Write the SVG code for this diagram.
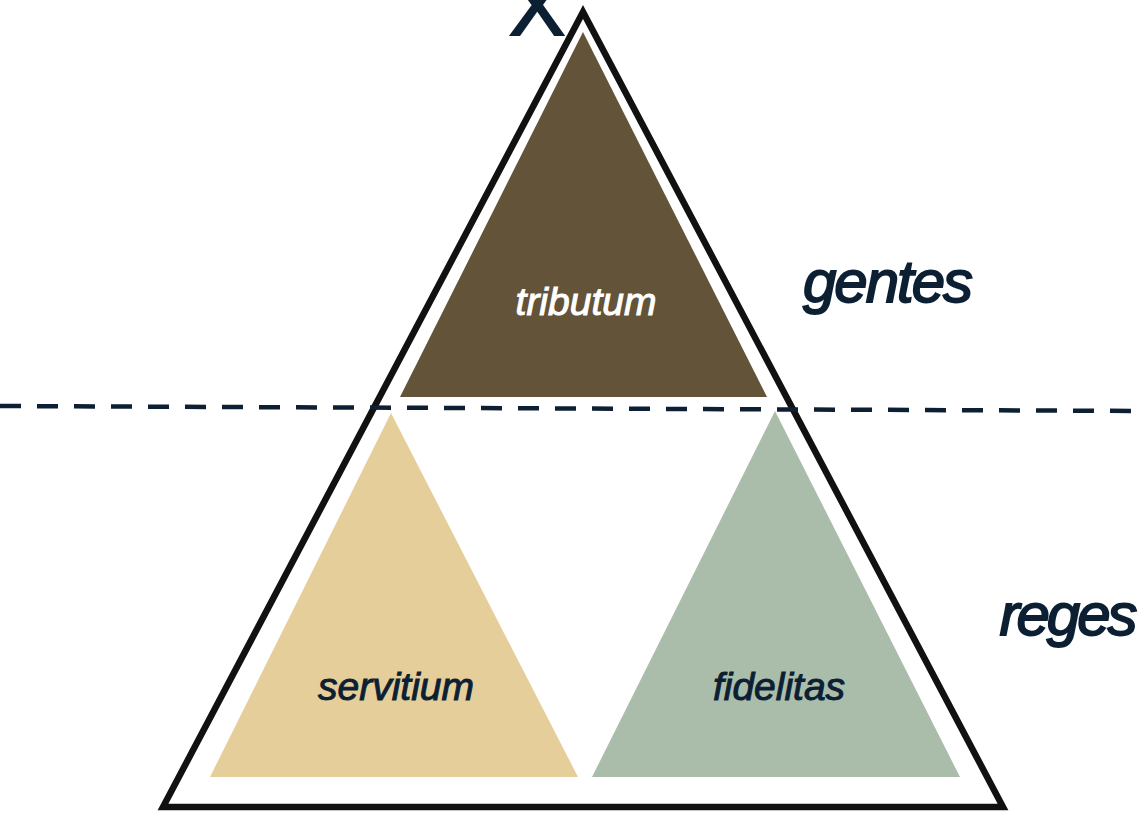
<svg xmlns="http://www.w3.org/2000/svg" width="1146" height="819" viewBox="0 0 1146 819">
<style>
.lbl{font-family:"Liberation Sans",Arial,sans-serif;font-style:italic;text-anchor:middle}
.dark{fill:#0c1f33;stroke:#0c1f33}
.big{font-size:60px;stroke-width:1.8}
.small{font-size:39px;stroke-width:1}
</style>
<rect width="1146" height="819" fill="#ffffff"/>
<g id="x-label"><text x="537" y="35" font-family="Liberation Sans,Arial,sans-serif" font-size="84" text-anchor="middle" fill="#0c1f33" stroke="#0c1f33" stroke-width="2">X</text></g>
<g id="outer"><polygon points="583,12 163,807 1003,807" fill="none" stroke="#111111" stroke-width="6.5" stroke-linejoin="miter"/></g>
<g id="tributum"><polygon points="583,32 400,397 767,397" fill="#625339"/><text class="lbl small" x="586" y="315" fill="#ffffff" stroke="#ffffff">tributum</text></g>
<g id="servitium"><polygon points="391,413 210,777 578,777" fill="#e5ce99"/><text class="lbl small dark" x="396" y="700">servitium</text></g>
<g id="fidelitas"><polygon points="775,411 592,777 960,777" fill="#aabdaa"/><text class="lbl small dark" x="779" y="700">fidelitas</text></g>
<g id="connectors"><line x1="0" y1="406" x2="1146" y2="411" stroke="#0c1f33" stroke-width="4.5" stroke-dasharray="21 16"/></g>
<g id="gentes"><text class="lbl big dark" x="887" y="302" letter-spacing="-2">gentes</text></g>
<g id="reges"><text class="lbl big dark" x="1067" y="635" letter-spacing="-3">reges</text></g>
</svg>
